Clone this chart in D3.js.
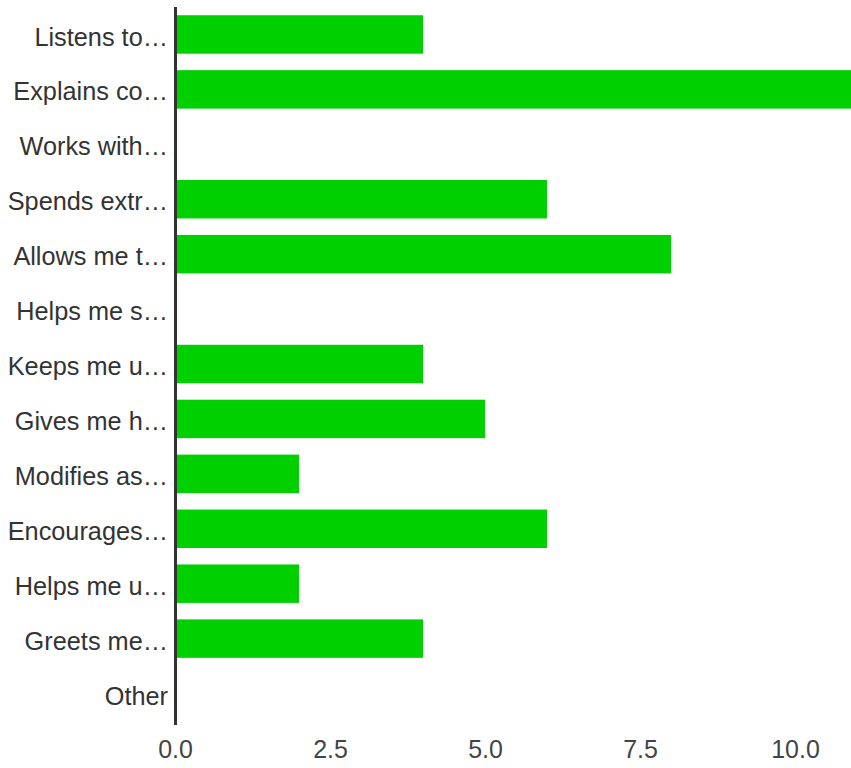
<!DOCTYPE html>
<html>
<head>
<meta charset="utf-8">
<script src="https://cdn.jsdelivr.net/npm/d3@7"></script>
<style>
  html, body { margin: 0; padding: 0; background: #fff; overflow: hidden; }
  text { font-family: "Liberation Sans", Arial, sans-serif; }
</style>
</head>
<body>
<svg id="chart" width="851" height="768"></svg>
<script>
const categories = [
  "Listens to…", "Explains co…", "Works with…", "Spends extr…", "Allows me t…",
  "Helps me s…", "Keeps me u…", "Gives me h…", "Modifies as…", "Encourages…",
  "Helps me u…", "Greets me…", "Other"
];
const values = [4, 11, 0, 6, 8, 0, 4, 5, 2, 6, 2, 4, 0];
const xTicks = [0, 2.5, 5, 7.5, 10];

const svg = d3.select("#chart");
const x0 = 175;
const x = d3.scaleLinear().domain([0, 11]).range([x0, x0 + 11 * 62]);
const y = d3.scaleBand().domain(categories).range([7, 721]).paddingInner(0.3).paddingOuter(0.15);

svg.append("g").selectAll("rect")
  .data(categories.map((c, i) => ({ c, v: values[i] })))
  .join("rect")
  .attr("x", x(0))
  .attr("y", d => y(d.c))
  .attr("width", d => x(d.v) - x(0))
  .attr("height", y.bandwidth())
  .attr("fill", "#00cf00");

// Y axis labels
const yAxis = d3.axisLeft(y).tickSize(0).tickPadding(7);
const gy = svg.append("g").attr("transform", `translate(${x0},3)`).call(yAxis);
gy.select(".domain").remove();
gy.selectAll("text")
  .attr("font-size", 25.3)
  .attr("fill", "#333")
  .attr("font-family", "Liberation Sans, Arial, sans-serif");

// Y axis line
svg.append("line")
  .attr("x1", x0 + 0.5).attr("x2", x0 + 0.5)
  .attr("y1", 7).attr("y2", 725)
  .attr("stroke", "#333").attr("stroke-width", 3);

// X axis
const xAxis = d3.axisBottom(x).tickValues(xTicks).tickFormat(d3.format(".1f")).tickSize(0).tickPadding(0);
const gx = svg.append("g").attr("transform", "translate(0,740)").call(xAxis);
gx.select(".domain").remove();
gx.selectAll("text")
  .attr("font-size", 25)
  .attr("fill", "#444")
  .attr("dy", "0.71em")
  .attr("y", 0)
  .attr("font-family", "Liberation Sans, Arial, sans-serif");
</script>
</body>
</html>
